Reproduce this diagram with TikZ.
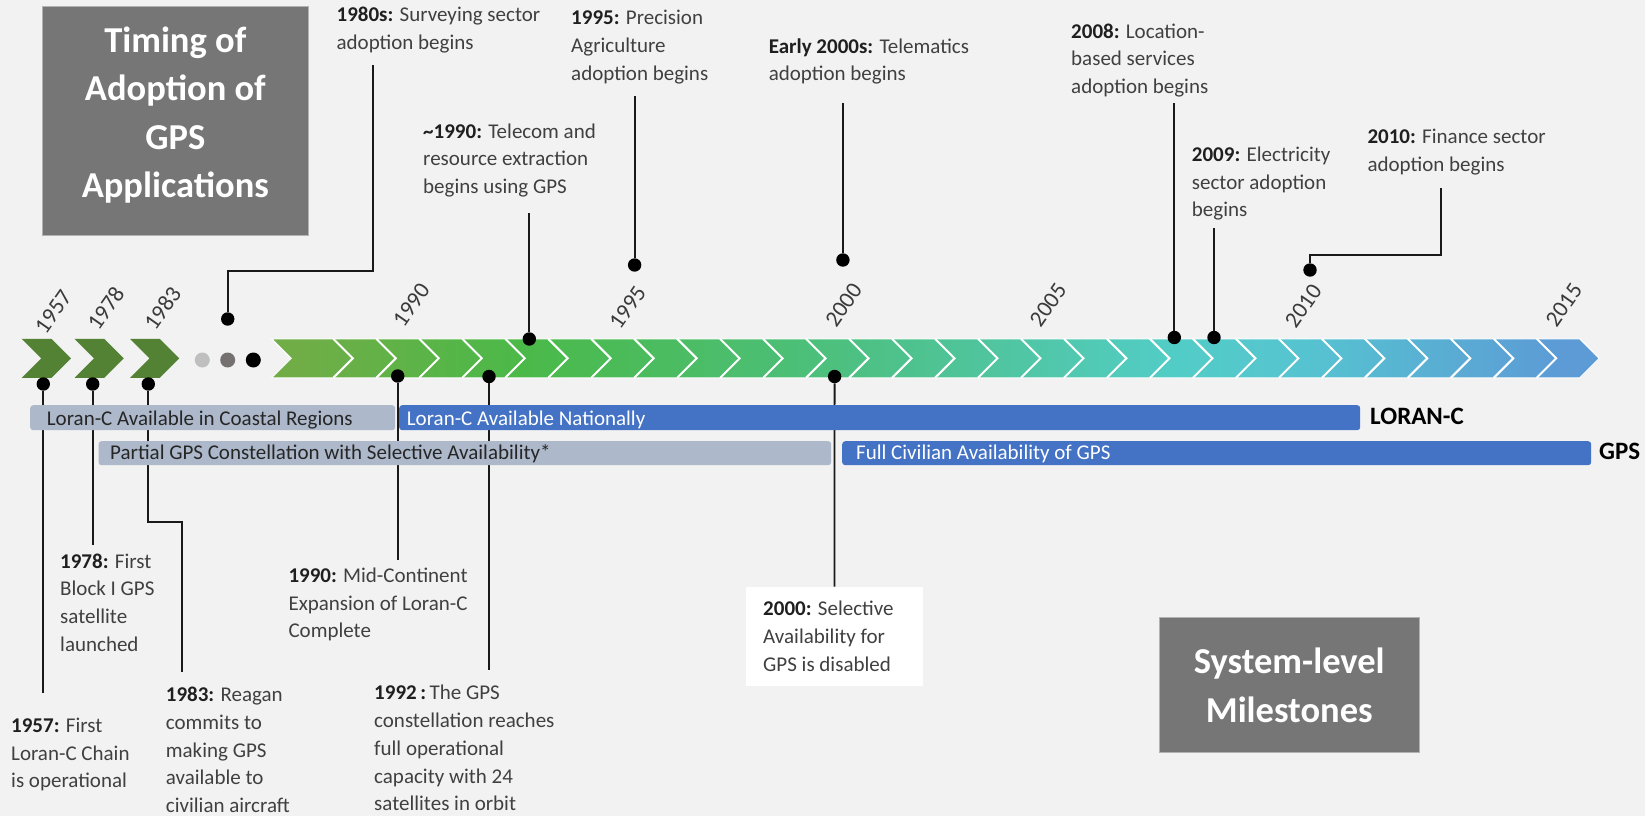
\documentclass[tikz,border=0pt]{standalone}
\usepackage{fontspec}
\setmainfont{Carlito}
\definecolor{bg}{HTML}{F2F2F2}
\definecolor{dkgreen}{HTML}{548235}
\definecolor{barGray}{HTML}{ADB9CA}
\definecolor{barBlue}{HTML}{4472C4}
\definecolor{titleGray}{HTML}{767676}
\definecolor{txt}{HTML}{404040}
\definecolor{dotLight}{HTML}{BFBFBF}
\definecolor{dotMid}{HTML}{767171}
\definecolor{sa}{RGB}{112,173,71}
\definecolor{sb}{RGB}{75,185,72}
\definecolor{sc}{RGB}{76,191,120}
\definecolor{sd}{RGB}{80,197,160}
\definecolor{se}{RGB}{82,205,198}
\definecolor{sf}{RGB}{86,196,208}
\definecolor{sg}{RGB}{92,155,214}
\pgfdeclarehorizontalshading{bandshade}{100bp}{color(0bp)=(sa); color(26.07bp)=(sa); color(34.35bp)=(sb); color(44.9bp)=(sc); color(52.43bp)=(sd); color(58.83bp)=(se); color(63.73bp)=(sf); color(73.5bp)=(sg); color(100bp)=(sg)}
\newcommand{\evb}[1]{\textbf{\color{black!88}#1}}
\begin{document}
\begin{tikzpicture}[x=1pt,y=-1pt,
  conn/.style={draw=black!90, line width=1.8pt},
  evdot/.style={circle, fill=black, inner sep=0pt, minimum size=13.4pt},
  lbl/.style={anchor=north west, inner sep=0pt, align=left, text=txt, font=\fontsize{21}{27.7}\selectfont},
  yr/.style={rotate=55, inner sep=0pt, text=txt!90!black, font=\fontsize{23}{27}\selectfont},
  bartxt/.style={anchor=base west, inner sep=0pt, font=\fontsize{21}{25}\selectfont},
  bar/.style={anchor=north west, rounded corners=3pt, inner sep=0pt},
  titlebox/.style={fill=titleGray, draw=black!30, line width=1pt, text=white, align=center, font=\fontsize{36.5}{48.3}\selectfont\bfseries},
  sysname/.style={anchor=base west, inner sep=0pt, text=black, font=\fontsize{25}{30}\selectfont\bfseries}
]
\useasboundingbox (0,0) rectangle (1645,816);
\fill[bg] (0,0) rectangle (1645,816);

% title boxes
\node[titlebox, minimum width=266.6pt, minimum height=228pt] (tAdopt) at (175.3,121) {Timing of\\Adoption of\\GPS\\Applications\rule[-17.5pt]{0pt}{1pt}};
\node[titlebox, minimum width=260.5pt, minimum height=135pt] (tSys) at (1289.25,685.2) {System-level\\Milestones};

% early chevrons
\foreach \a in {21.7,74.5,130} {
  \fill[dkgreen] (\a,338.8) -- ++(29.8,0) -- ++(19.5,19.5) -- ++(-19.5,19.5) -- ++(-29.8,0) -- ++(19.5,-19.5) -- cycle;
}
\fill[dotLight] (202.3,360) circle (7.5);
\fill[dotMid] (227.7,360) circle (7.5);
\fill[black] (253.3,360) circle (7.5);

% main band
\shade[shading=bandshade, draw=white, line width=1pt] (271.7,338.8) -- (1579.7,338.8) -- (1599.2,358.3) -- (1579.7,377.8) -- (271.7,377.8) -- (291.2,358.3) -- cycle;
\foreach \k in {0,...,28} {
  \pgfmathsetmacro\sx{333.3+42.98*\k}
  \draw[white, line width=2pt] (\sx,338.8) -- (\sx+19.5,358.3) -- (\sx,377.8);
}

% year labels
\node[yr] (y1957) at (53.3,311.7) {1957};
\node[yr] (y1978) at (105.7,308.3) {1978};
\node[yr] (y1983) at (162.5,308.3) {1983};
\node[yr] (y1990) at (411.3,305) {1990};
\node[yr] (y1995) at (627.5,307.5) {1995};
\node[yr] (y2000) at (843.6,305) {2000};
\node[yr] (y2005) at (1048,305) {2005};
\node[yr] (y2010) at (1303.3,306) {2010};
\node[yr] (y2015) at (1563.8,305) {2015};

% event dots
\node[evdot] (d1957) at (43.3,384) {};
\node[evdot] (d1978) at (92.7,384) {};
\node[evdot] (d1983) at (148.3,384) {};
\node[evdot] (d1990) at (397.7,376) {};
\node[evdot] (d1992) at (489,376.5) {};
\node[evdot] (d2000) at (834.6,376.5) {};
\node[evdot] (d1980s) at (227.7,319) {};
\node[evdot] (d1990t) at (529.3,339) {};
\node[evdot] (d1995) at (634.6,265) {};
\node[evdot] (d2000s) at (842.9,260) {};
\node[evdot] (d2008) at (1174.3,337.5) {};
\node[evdot] (d2009) at (1214,337.5) {};
\node[evdot] (d2010) at (1310,270) {};

% connector end points
\coordinate (e1957) at (43.3,693);
\coordinate (e1978) at (92.7,545);
\coordinate (k1983) at (182.3,521.7);
\coordinate (e1983) at (182.3,671.7);
\coordinate (e1990) at (397.7,560);
\coordinate (e1992) at (489,670);
\coordinate (k1980s) at (373.2,270.7);
\coordinate (e1980s) at (373.2,65);
\coordinate (e1990t) at (529.3,213.3);
\coordinate (e1995) at (634.6,96);
\coordinate (e2000s) at (842.9,102.7);
\coordinate (e2008) at (1174.3,102.7);
\coordinate (e2009) at (1214,227.7);
\coordinate (k2010) at (1440.7,255);
\coordinate (e2010) at (1440.7,188.3);

% white box for 2000
\node[fill=white, inner sep=0pt, minimum width=177pt, minimum height=99.3pt] (b2000) at (834.5,636.35) {};

% connectors
\draw[conn] (d1957) -- (e1957);
\draw[conn] (d1978) -- (e1978);
\draw[conn] (d1983) |- (k1983) -- (e1983);
\draw[conn] (d1990) -- (e1990);
\draw[conn] (d1992) -- (e1992);
\draw[conn] (d2000) -- (b2000.north);
\draw[conn] (d1980s) |- (k1980s) -- (e1980s);
\draw[conn] (d1990t) -- (e1990t);
\draw[conn] (d1995) -- (e1995);
\draw[conn] (d2000s) -- (e2000s);
\draw[conn] (d2008) -- (e2008);
\draw[conn] (d2009) -- (e2009);
\draw[conn] (d2010) |- (k2010) -- (e2010);

% bars
\node[bar, fill=barGray, minimum width=365pt, minimum height=25pt] (bCoast) at (30,405) {};
\node[bar, fill=barBlue, minimum width=961pt, minimum height=25pt] (bNat) at (399,405) {};
\node[bar, fill=barGray, minimum width=732.7pt, minimum height=24pt] (bPart) at (98.3,441) {};
\node[bar, fill=barBlue, minimum width=749pt, minimum height=24pt] (bFull) at (842,441) {};
\node[bartxt, text=black!85] (tCoast) at (46.7,425.3) {Loran-C Available in Coastal Regions};
\node[bartxt, text=white] (tNat) at (406.7,425.3) {Loran-C Available Nationally};
\node[bartxt, text=black!85] (tPart) at (110,459.8) {Partial GPS Constellation with Selective Availability*};
\node[bartxt, text=white] (tFull) at (856,459.8) {Full Civilian Availability of GPS};
\node[sysname] (sLoran) at (1370,424.7) {LORAN-C};
\node[sysname] (sGps) at (1599,459.7) {GPS};

% labels
\node[lbl] (l1980s) at (336.4,2) {\strut\evb{1980s:} Surveying sector\\adoption begins};
\node[lbl] (l1990t) at (423,118.7) {\strut\evb{\textasciitilde1990:} Telecom and\\resource extraction\\begins using GPS};
\node[lbl] (l1995) at (571,5.3) {\strut\evb{1995:} Precision\\Agriculture\\adoption begins};
\node[lbl] (l2000s) at (768.6,33.7) {\strut\evb{Early 2000s:} Telematics\\adoption begins};
\node[lbl] (l2008) at (1071,18.7) {\strut\evb{2008:} Location-\\based services\\adoption begins};
\node[lbl] (l2009) at (1191.7,142) {\strut\evb{2009:} Electricity\\sector adoption\\begins};
\node[lbl] (l2010) at (1367.3,124.3) {\strut\evb{2010:} Finance sector\\adoption begins};
\node[lbl] (l1957) at (11,712.7) {\strut\evb{1957:} First\\Loran-C Chain\\is operational};
\node[lbl] (l1978) at (60,548.7) {\strut\evb{1978:} First\\Block I GPS\\satellite\\launched};
\node[lbl] (l1983) at (165.7,682) {\strut\evb{1983:} Reagan\\commits to\\making GPS\\available to\\civilian aircraft};
\node[lbl] (l1990) at (288.3,563) {\strut\evb{1990:} Mid-Continent\\Expansion of Loran-C\\Complete};
\node[lbl] (l1992) at (374,680.3) {\strut\evb{1992\,:}\,The GPS\\constellation reaches\\full operational\\capacity with 24\\satellites in orbit};
\node[lbl] (l2000) at (763,596.3) {\strut\evb{2000:} Selective\\Availability for\\GPS is disabled};
\end{tikzpicture}
\end{document}
